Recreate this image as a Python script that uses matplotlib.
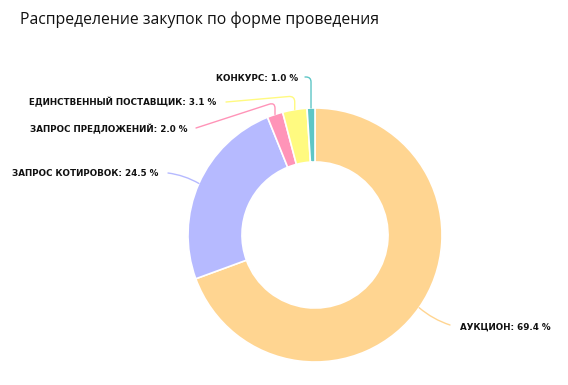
import matplotlib
matplotlib.use("Agg")
import matplotlib.pyplot as plt
import numpy as np

categories = ["АУКЦИОН", "ЗАПРОС КОТИРОВОК", "ЗАПРОС ПРЕДЛОЖЕНИЙ",
              "ЕДИНСТВЕННЫЙ ПОСТАВЩИК", "КОНКУРС"]
values = [69.4, 24.5, 2.0, 3.1, 1.0]
colors = ["#FFD591", "#B6BAFF", "#FF94B8", "#FFFA80", "#5EC6C6"]

W, H = 568, 385
fig = plt.figure(figsize=(W / 100, H / 100), dpi=100)
cx, cy, R = 315, 235, 127
ax = fig.add_axes([(cx - R) / W, (H - cy - R) / H, 2 * R / W, 2 * R / H])

wedges, _ = ax.pie(values, colors=colors, startangle=90, counterclock=False,
                   radius=1.0, wedgeprops=dict(width=0.425, edgecolor="white", linewidth=1.2))
ax.set_xlim(-1, 1)
ax.set_ylim(-1, 1)
ax.set_aspect("equal")
ax.axis("off")

def d(px, py):
    return ((px - cx) / R, (cy - py) / R)

# label layout: (text anchor px, ha, line start px, connection style)
layout = [
    ((460, 327), "left", (450, 325), "arc3,rad=-0.1"),
    ((158, 173), "right", (168, 173), "arc3,rad=-0.1"),
    ((187, 129), "right", (196, 128), "angle,angleA=18,angleB=90,rad=6"),
    ((216, 102), "right", (226, 102), "angle,angleA=5,angleB=90,rad=6"),
    ((298, 78), "right", (305, 77), "angle,angleA=0,angleB=90,rad=5"),
]

for w, cat, val, col, (tp, ha, lp, cs) in zip(wedges, categories, values, colors, layout):
    mid = np.deg2rad((w.theta1 + w.theta2) / 2)
    xy = (np.cos(mid) * 1.0, np.sin(mid) * 1.0)
    tx, ty = d(*tp)
    ax.text(tx, ty, f"{cat}: {val:.1f} %", ha=ha, va="center", fontsize=6.3,
            fontweight="bold", color="#111111", clip_on=False)
    ax.annotate("", xy=xy, xytext=d(*lp), annotation_clip=False,
                arrowprops=dict(arrowstyle="-", color=col, lw=1.0,
                                connectionstyle=cs, shrinkA=0, shrinkB=0))

fig.text(20 / W, 1 - 20 / H, "Распределение закупок по форме проведения",
         ha="left", va="center", fontsize=11.3, family="Open Sans", color="#111111")

fig.savefig("out.png", dpi=100, facecolor="white")
